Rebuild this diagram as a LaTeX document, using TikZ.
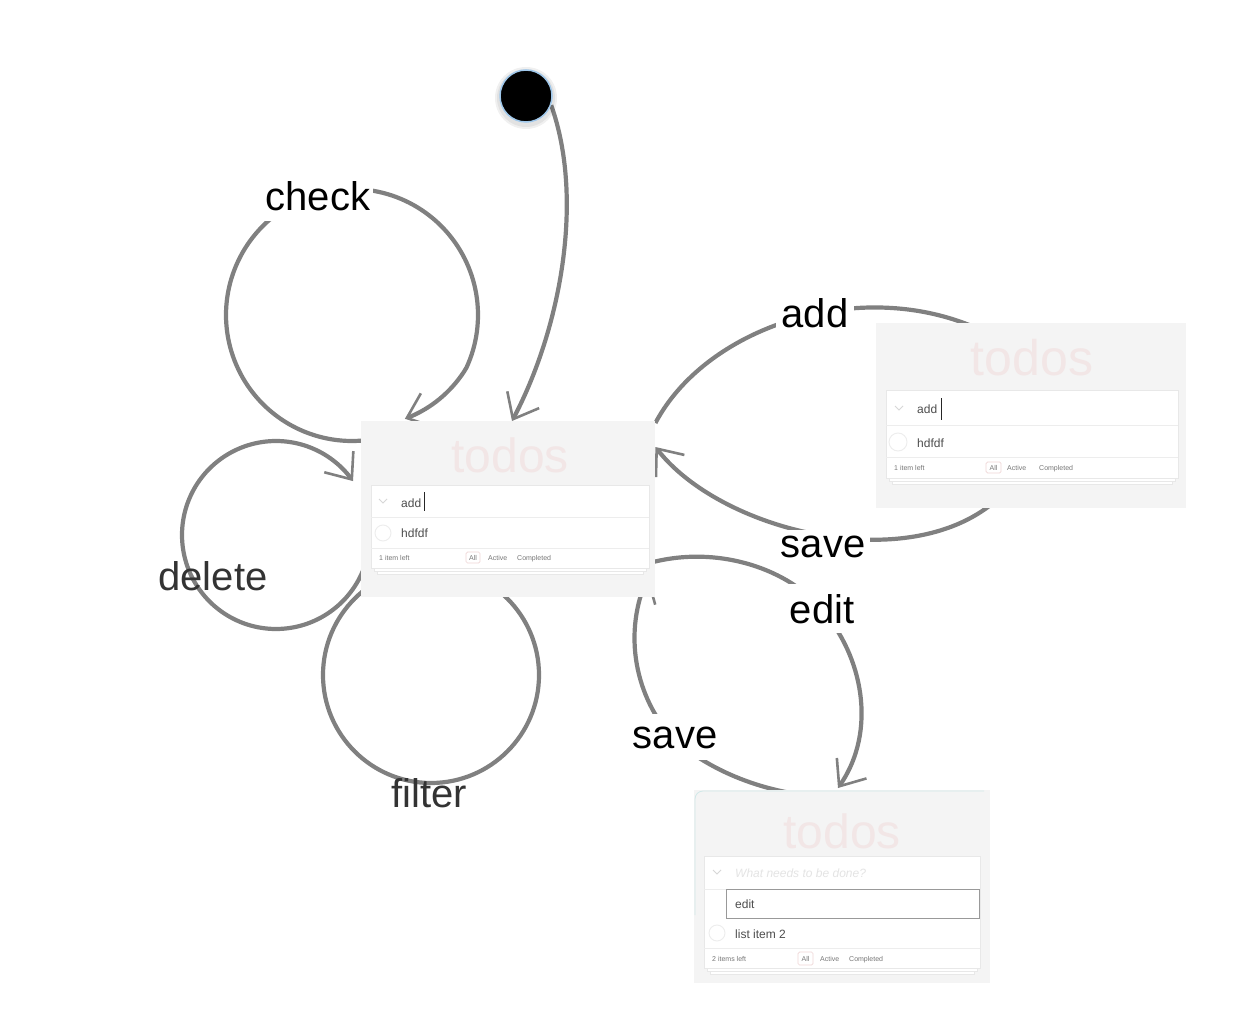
\documentclass[tikz,border=0pt]{standalone}
\usepackage{fontspec}
\setmainfont{Liberation Sans}
\usetikzlibrary{arrows.meta,calc}
\pgfdeclarelayer{bg}
\pgfsetlayers{bg,main}
\definecolor{conncol}{RGB}{128,128,128}
\definecolor{shotbg}{RGB}{244,244,244}
\definecolor{titlecol}{RGB}{242,230,230}
\definecolor{rowcol}{RGB}{237,237,237}
\definecolor{txtcol}{RGB}{77,77,77}
\definecolor{footcol}{RGB}{119,119,119}
\definecolor{allcol}{RGB}{239,213,213}
\definecolor{lblcol}{RGB}{51,51,51}
\definecolor{chevcol}{RGB}{215,215,215}
\definecolor{phcol}{RGB}{228,228,228}
\definecolor{cardedge}{RGB}{232,232,232}
\definecolor{startedge}{RGB}{160,200,235}
\definecolor{cyanedge}{RGB}{208,232,232}
\begin{document}
\begin{tikzpicture}[x=1pt,y=-1pt,
  conn/.style={draw=conncol, line width=4.2pt},
  arr/.style={-{Straight Barb[length=22pt,width=36pt,line width=2.6pt]}},
  lab/.style={font=\fontsize{40}{44}\selectfont, anchor=base, fill=white, inner xsep=3pt, inner ysep=3pt, text=black},
  dlab/.style={font=\fontsize{40}{44}\selectfont, anchor=base, text=lblcol, inner sep=0pt},
  shot/.style={fill=shotbg, draw=none, anchor=north west, inner sep=0pt, rectangle},
  ttl/.style={font=\fontsize{48}{50}\selectfont, text=titlecol, anchor=base, inner sep=0pt},
  itemtxt/.style={font=\fontsize{12}{14}\selectfont, text=txtcol, anchor=base west, inner sep=0pt},
  foottxt/.style={font=\fontsize{7}{8}\selectfont, text=footcol, anchor=base west, inner sep=0pt},
  cardbox/.style={fill=white, draw=cardedge, line width=0.6pt},
  stackbox/.style={fill=white, draw=cardedge, line width=0.5pt},
  rowsep/.style={draw=rowcol, line width=0.8pt},
  chev/.style={draw=chevcol, line width=0.9pt},
  tickc/.style={draw=rowcol, line width=0.9pt},
  allbox/.style={draw=allcol, line width=0.7pt, rounded corners=1.5pt},
  caret/.style={draw=black!85, line width=0.9pt},
]
\useasboundingbox (0,0) rectangle (1258,1016);

% start node
\fill[black, opacity=0.06] (526,98) circle[radius=31pt];
\fill[black, opacity=0.06] (526,98) circle[radius=29pt];
\node[circle, minimum size=52pt, inner sep=0pt, fill=black, draw=startedge, line width=1.5pt] (start) at (526,96) {};

% screenshots
\node[shot, minimum width=294pt, minimum height=176pt] (main) at (361,421) {};
\node[shot, minimum width=310pt, minimum height=185pt] (right) at (876,323) {};
\node[shot, minimum width=296pt, minimum height=193pt] (bottom) at (694,790) {};

% main screenshot contents
\begin{scope}[shift={(main.north west)}]
  \node[ttl] (mtitle) at (149,51) {todos};
  \draw[stackbox] (16,150) rectangle (282,153);
  \draw[stackbox] (13,147) rectangle (285,150);
  \draw[cardbox] (10,64) rectangle (288,147);
  \draw[rowsep] (10,96) -- (288,96);
  \draw[rowsep] (10,127) -- (288,127);
  \draw[chev] (18,78) -- (22,82) -- (26,78);
  \node[itemtxt] (madd) at (40,86) {add};
  \draw[caret] (63,71) -- (63,90);
  \draw[tickc] (22,112) circle[radius=8pt];
  \node[itemtxt] (mitem) at (40,116) {hdfdf};
  \node[foottxt] (mleft) at (18,139) {1 item left};
  \draw[allbox] (105,131) rectangle (119,142);
  \node[foottxt, anchor=base] (mall) at (112,139) {All};
  \node[foottxt] (mact) at (127,139) {Active};
  \node[foottxt] (mcomp) at (156,139) {Completed};
\end{scope}

% right screenshot contents
\begin{scope}[shift={(right.north west)}]
  \node[ttl, font=\fontsize{50}{52}\selectfont] (rtitle) at (156,52) {todos};
  \draw[stackbox] (16,158) rectangle (296,161);
  \draw[stackbox] (13,155) rectangle (299,158);
  \draw[cardbox] (10,67) rectangle (302,155);
  \draw[rowsep] (10,102) -- (302,102);
  \draw[rowsep] (10,134) -- (302,134);
  \draw[chev] (19,83) -- (23,87) -- (27,83);
  \node[itemtxt] (radd) at (41,90) {add};
  \draw[caret] (65,75) -- (65,97);
  \draw[tickc] (22,119) circle[radius=9pt];
  \node[itemtxt] (ritem) at (41,124) {hdfdf};
  \node[foottxt] (rleft) at (18,147) {1 item left};
  \draw[allbox] (110,139) rectangle (125,150);
  \node[foottxt, anchor=base] (rall) at (117.5,147) {All};
  \node[foottxt] (ract) at (131,147) {Active};
  \node[foottxt] (rcomp) at (163,147) {Completed};
\end{scope}

% bottom screenshot contents
\begin{scope}[shift={(bottom.north west)}]
  \draw[cyanedge, line width=0.8pt, rounded corners=8pt] (1,125) -- (1,1) -- (290,1);
  \node[ttl] (btitle) at (148,58) {todos};
  \draw[stackbox] (16,181) rectangle (280,184);
  \draw[stackbox] (13,178) rectangle (283,181);
  \draw[cardbox] (10,66) rectangle (286,178);
  \draw[chev] (19,80) -- (23,84) -- (27,80);
  \node[itemtxt, text=phcol, font=\fontsize{12}{14}\selectfont\itshape] (bph) at (41,87) {What needs to be done?};
  \draw[rowsep] (10,99) -- (286,99);
  \draw[fill=white, draw=black!40, line width=0.8pt] (32,99) rectangle (285,128);
  \node[itemtxt] (bedit) at (41,118) {edit};
  \draw[tickc] (23,143) circle[radius=8pt];
  \node[itemtxt] (bitem) at (41,148) {list item 2};
  \draw[rowsep] (10,158) -- (286,158);
  \node[foottxt] (bleft) at (18,171) {2 items left};
  \draw[allbox] (104,162) rectangle (119,175);
  \node[foottxt, anchor=base] (ball) at (111.5,171) {All};
  \node[foottxt] (bact) at (126,171) {Active};
  \node[foottxt] (bcomp) at (155,171) {Completed};
\end{scope}

\begin{pgfonlayer}{bg}
  % initial transition
  \draw[conn, arr] (start.340) .. controls (585,200) and (560,330) .. ($(main.north west)+(151,0)$);
  % check loop
  \draw[conn, arr] plot[domain=84:423, samples=160, variable=\t]
    ({352+(126-max(0,\t-385)*0.25)*cos(\t)},{315+(126-max(0,\t-385)*0.25)*sin(\t)});
  % delete loop
  \draw[conn, arr] plot[domain=20:325, samples=140, variable=\t]
    ({276+94*cos(\t)},{535+94*sin(\t)});
  % filter loop
  \draw[conn] (431,675) circle[radius=108pt];
  % add
  \draw[conn] ($(main.north east)+(0,2)$) .. controls (710,320) and (880,270) .. ($(right.north west)+(124,17)$);
  % save (right -> main)
  \draw[conn, arr] ($(right.south west)+(114,-3)$) .. controls (900,575) and (720,530) .. ($(main.north east)+(0,26)$);
  % edit
  \draw[conn, arr] ($(main.east)+(-3,53)$) .. controls (720,545) and (790,570) .. (822,610)
     .. controls (862,655) and (878,730) .. ($(bottom.north west)+(144,-2)$);
  % save (bottom -> main)
  \draw[conn, arr] ($(bottom.north west)+(156,7)$) .. controls (780,800) and (715,775) .. (675,740)
     .. controls (640,705) and (620,640) .. ($(main.south east)+(-7,-22)$);

  % labels
  \node[lab, inner ysep=10pt] (lcheck) at (318,211) {check};
  \node[lab, inner xsep=6pt] (ladd) at (815,327) {add};
  \node[lab, inner sep=5pt] (lsave1) at (823,557) {save};
  \node[lab, inner ysep=10pt] (ledit) at (822,623) {edit};
  \node[lab, inner ysep=12pt] (lsave2) at (675,748) {save};
  \node[dlab] (ldelete) at (213,590) {delete};
  \node[dlab] (lfilter) at (429,807) {filter};
\end{pgfonlayer}
\end{tikzpicture}
\end{document}
